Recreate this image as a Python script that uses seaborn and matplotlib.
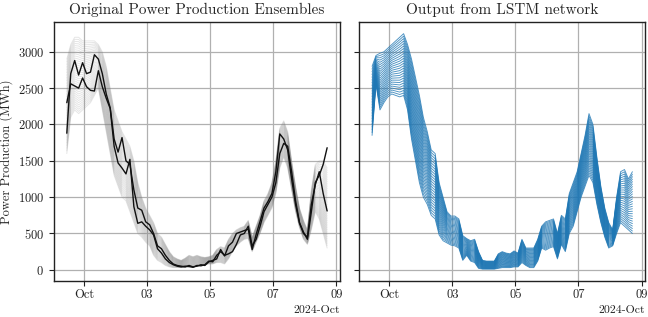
import numpy as np
import pandas as pd
import seaborn as sns
import matplotlib
matplotlib.use('Agg')
from matplotlib import pyplot as plt
import matplotlib.dates as mdates

# 3-hourly time stamps
times = pd.date_range('2024-09-30 11:00', periods=67, freq='3h')

# the two highlighted (black) ensemble members
black_a = [1880, 2700, 2880, 2680, 2850, 2700, 2720, 2960, 2900, 2700,
           2420, 2230, 1800, 1620, 1820, 1500, 1450, 1100, 850, 820,
           660, 620, 500, 330, 290, 200, 130, 80, 60, 50,
           40, 60, 40, 50, 70, 60, 110, 130, 150, 280,
           190, 330, 380, 500, 520, 540, 560, 280, 486, 668,
           850, 940, 1050, 1350, 1870, 1800, 1650, 1250, 900, 640,
           500, 450, 900, 1170, 1350, 1050, 810]
black_b = [2300, 2560, 2530, 2500, 2640, 2520, 2470, 2460, 2740, 2520,
           2360, 2220, 1700, 1470, 1400, 1320, 1520, 870, 640, 660,
           600, 550, 480, 290, 230, 150, 100, 70, 50, 40,
           50, 45, 35, 60, 55, 70, 120, 110, 200, 250,
           200, 220, 250, 350, 480, 500, 600, 330, 420, 600,
           800, 900, 1000, 1200, 1600, 1740, 1700, 1350, 950, 650,
           520, 420, 800, 1200, 1300, 1450, 1680]

# envelope of the grey ensemble
ens_lo = [1600, 2100, 2200, 2150, 2200, 2250, 2300, 2400, 2500, 2200,
          1900, 1600, 1300, 1150, 1000, 950, 800, 650, 500, 450,
          380, 330, 200, 130, 100, 60, 40, 30, 30, 30,
          30, 40, 40, 50, 60, 70, 80, 80, 100, 100,
          80, 150, 250, 330, 380, 420, 430, 250, 380, 500,
          650, 750, 850, 1050, 1400, 1550, 1400, 1100, 800, 580,
          420, 350, 550, 800, 700, 500, 300]
ens_hi = [2900, 3100, 3200, 3200, 3150, 3150, 3150, 3150, 3100, 3000,
          2800, 2500, 2200, 2050, 1900, 1800, 1700, 1500, 1200, 1000,
          850, 750, 650, 500, 450, 350, 250, 180, 150, 130,
          160, 200, 180, 200, 180, 170, 180, 200, 280, 320,
          300, 420, 500, 550, 580, 600, 680, 450, 600, 750,
          950, 1050, 1200, 1500, 1950, 2050, 1900, 1500, 1150, 850,
          680, 550, 1100, 1450, 1500, 1500, 1400]

# envelope of the LSTM output
lstm_lo = [1850, 2550, 2200, 2300, 2380, 2420, 2400, 2380, 2400, 2200,
           1800, 1500, 1200, 1000, 900, 750, 700, 480, 400, 370,
           340, 330, 300, 130, 200, 120, 100, 20, 10, 10,
           10, 10, 20, 30, 30, 30, 40, 40, 100, 60,
           30, 30, 120, 300, 270, 300, 320, 150, 350, 250,
           500, 600, 800, 1000, 1150, 1300, 1200, 900, 650, 450,
           300, 330, 500, 650, 600, 550, 500]
lstm_hi = [2800, 2950, 2980, 3000, 3050, 3100, 3150, 3200, 3250, 3100,
           2900, 2650, 2400, 2100, 1900, 1650, 1600, 1200, 1000, 800,
           740, 740, 700, 470, 430, 400, 420, 250, 130, 120,
           120, 120, 220, 250, 230, 220, 260, 230, 420, 300,
           300, 300, 420, 600, 660, 680, 700, 500, 750, 700,
           1050, 1200, 1350, 1600, 1850, 2150, 2000, 1550, 1150, 850,
           650, 550, 1000, 1350, 1380, 1250, 1350]

n_ens = 36
n_lstm = 26


def fan(lo, hi, n, name):
    lo = np.array(lo, dtype=float)
    hi = np.array(hi, dtype=float)
    frames = []
    for k, f in enumerate(np.linspace(0, 1, n)):
        frames.append(pd.DataFrame({'time': times, 'value': lo + f * (hi - lo),
                                    'member': f'{name}{k}'}))
    return pd.concat(frames, ignore_index=True)


ens_df = fan(ens_lo, ens_hi, n_ens, 'e')
lstm_df = fan(lstm_lo, lstm_hi, n_lstm, 'l')
black_df = pd.concat([
    pd.DataFrame({'time': times, 'value': black_a, 'member': 'a'}),
    pd.DataFrame({'time': times, 'value': black_b, 'member': 'b'}),
], ignore_index=True)

sns.set_style('whitegrid')
plt.rcParams['font.family'] = ['cmr10', 'DejaVu Serif']
plt.rcParams['axes.formatter.use_mathtext'] = True
plt.rcParams['axes.unicode_minus'] = False
plt.rcParams['grid.color'] = '#b0b0b0'
plt.rcParams['grid.linewidth'] = 0.9
plt.rcParams['axes.edgecolor'] = '#222222'
plt.rcParams['axes.linewidth'] = 1.0
plt.rcParams['xtick.bottom'] = True
plt.rcParams['ytick.left'] = True
plt.rcParams['xtick.major.size'] = 3.5
plt.rcParams['ytick.major.size'] = 3.5
plt.rcParams['xtick.major.pad'] = 2.5
plt.rcParams['xtick.color'] = '#222222'
plt.rcParams['ytick.color'] = '#222222'

fig, axes = plt.subplots(1, 2, figsize=(6.48, 3.17), dpi=100, sharey=True)
fig.subplots_adjust(left=0.083, right=0.996, top=0.931, bottom=0.114, wspace=0.066)

ax = axes[0]
sns.lineplot(data=ens_df, x='time', y='value', units='member', estimator=None,
             color='gray', alpha=0.2, linewidth=0.7, ax=ax)
sns.lineplot(data=black_df, x='time', y='value', units='member', estimator=None,
             color='#111111', linewidth=1.0, ax=ax)
ax.set_title('Original Power Production Ensembles', fontsize=11)
ax.set_ylabel('Power Production (MWh)', fontsize=9, labelpad=3)

ax = axes[1]
sns.lineplot(data=lstm_df, x='time', y='value', units='member', estimator=None,
             color='#1f77b4', alpha=0.8, linewidth=0.65, ax=ax)
ax.set_title('Output from LSTM network', fontsize=11)

for ax in axes:
    ax.set_xlabel('')
    ax.xaxis.set_major_locator(mdates.DayLocator(bymonthday=[1, 3, 5, 7, 9]))
    ax.xaxis.set_major_formatter(mdates.ConciseDateFormatter(ax.xaxis.get_major_locator()))
    ax.tick_params(labelsize=9)
    ax.xaxis.get_offset_text().set_fontsize(8.5)
    for s in ax.spines.values():
        s.set_visible(True)
axes[0].set_yticks([0, 500, 1000, 1500, 2000, 2500, 3000])

plt.savefig('out.png', dpi=100)
